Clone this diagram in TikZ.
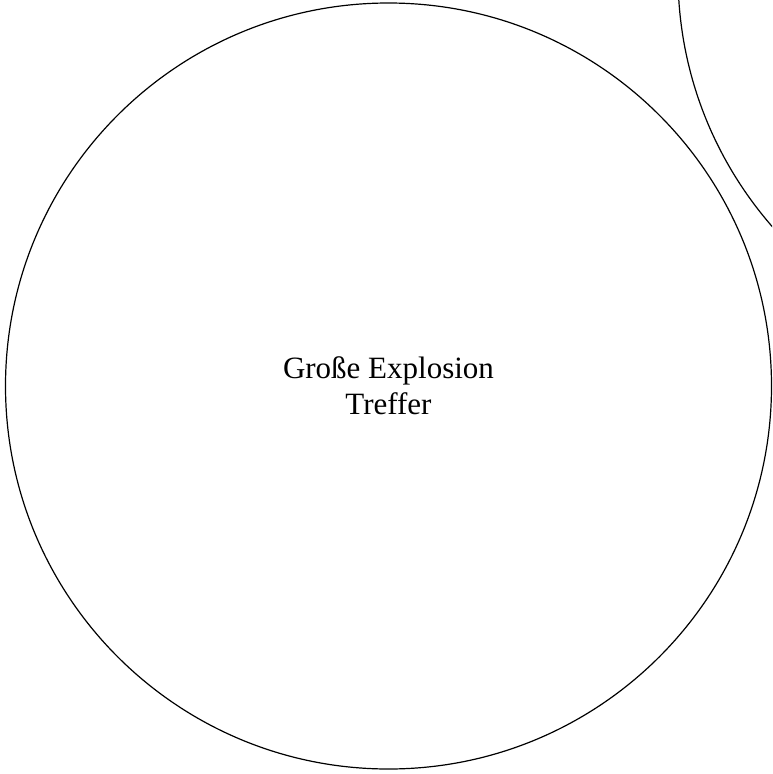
\documentclass[tikz,border=0pt]{standalone}
\usepackage{fontspec}
\setmainfont{Liberation Serif}
\usepackage{tikz}
\usetikzlibrary{positioning}

\begin{document}
\begin{tikzpicture}[x=1pt, y=-1pt,
        bubble/.style={circle, draw=black, line width=1.2pt, minimum size=766pt, inner sep=0pt, align=center, font=\fontsize{31}{36}\selectfont}
      ]
        \useasboundingbox (0,0) rectangle (772,774);
        \clip (0,0) rectangle (772,774);
        \node[bubble] (explosion) at (388.5,386) {Große Explosion\\Treffer};
        \node[bubble] (neighbour) at (1061,-25) {};
      \end{tikzpicture}
\end{document}
